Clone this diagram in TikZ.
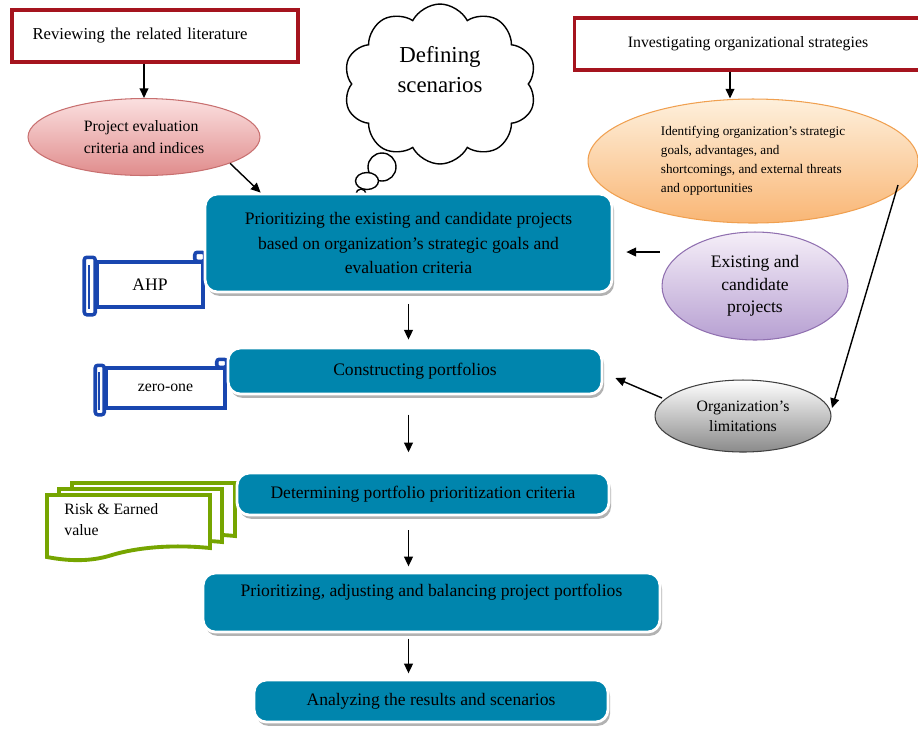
\documentclass[tikz,border=0pt]{standalone}
\usepackage{fontspec}
\setmainfont{Liberation Serif}
\usetikzlibrary{shapes.geometric,shapes.symbols,shadows,arrows.meta,calc}

\definecolor{tealbox}{RGB}{0,133,173}
\definecolor{redframe}{RGB}{165,20,30}
\definecolor{scrollblue}{RGB}{25,70,175}
\definecolor{docgreen}{RGB}{118,165,0}
\definecolor{pinktop}{RGB}{251,224,224}
\definecolor{pinkbot}{RGB}{224,140,140}
\definecolor{pinkline}{RGB}{200,112,112}
\definecolor{orangetop}{RGB}{254,240,220}
\definecolor{orangebot}{RGB}{249,182,117}
\definecolor{orangeline}{RGB}{240,160,80}
\definecolor{purpletop}{RGB}{245,238,248}
\definecolor{purplebot}{RGB}{183,160,210}
\definecolor{purpleline}{RGB}{144,112,176}
\definecolor{graybot}{RGB}{138,138,138}

\tikzset{
  stage/.style={rectangle, rounded corners=7pt, fill=tealbox, draw=white, line width=1.6pt,
    drop shadow={shadow xshift=1.2pt, shadow yshift=-2.2pt, opacity=0.55, fill=black!55},
    align=center, font=\fontsize{10}{14}\selectfont},
  source/.style={rectangle, draw=redframe, line width=2.2pt, fill=white},
  oval/.style={ellipse, inner sep=0pt, line width=0.6pt},
  scrollbox/.style={rectangle, draw=scrollblue, line width=2pt, fill=white},
  scrollline/.style={draw=scrollblue, line width=2pt},
  docline/.style={draw=docgreen, line width=2.2pt, fill=white},
  bubble/.style={draw, fill=white, line width=0.8pt, inner sep=0pt},
  arr/.style={-{Triangle[length=5.5pt,width=5pt]}, line width=0.8pt},
}

\begin{document}
\begin{tikzpicture}[x=0.02cm, y=-0.02cm]
\useasboundingbox (0,0) rectangle (918,728);

% sources at the top
\node[source, minimum width=5.72cm, minimum height=1.04cm, text width=4.9cm, align=left,
  font=\fontsize{9.5}{12}\selectfont] (rev) at (155,36) {Reviewing the related literature};
\node[source, minimum width=6.94cm, minimum height=1.04cm,
  font=\fontsize{9}{12}\selectfont] (inv) at (748,44) {Investigating organizational strategies};

% thought cloud
\node[cloud, cloud puffs=10, cloud puff arc=125, cloud ignores aspect, draw, fill=white, line width=0.8pt,
  minimum width=3.86cm, minimum height=3.2cm, align=center,
  font=\fontsize{13}{17}\selectfont] (scen) at (440,84) {Defining\\scenarios\\ \mbox{}};
\node[bubble, circle, minimum size=0.56cm] (bubA) at (382,167) {};
\node[bubble, ellipse, minimum width=0.46cm, minimum height=0.34cm] (bubB) at (367,181) {};
\node[bubble, circle, minimum size=0.2cm] (bubC) at (361,194) {};

% ovals
\node[oval, minimum width=4.64cm, minimum height=1.54cm, top color=pinktop, bottom color=pinkbot,
  draw=pinkline, align=left, font=\fontsize{9}{12.5}\selectfont] (pee) at (144,137)
  {Project evaluation\\criteria and indices};
\node[oval, minimum width=6.6cm, minimum height=2.48cm, top color=orangetop, bottom color=orangebot,
  draw=orangeline, align=left, font=\fontsize{7.5}{10.8}\selectfont] (goals) at (753,161)
  {Identifying organization's strategic\\goals, advantages, and\\shortcomings, and external threats\\and opportunities};
\node[oval, minimum width=3.72cm, minimum height=2.16cm, top color=purpletop, bottom color=purplebot,
  draw=purpleline, align=center, font=\fontsize{10}{12.75}\selectfont] (purp) at (755,286)
  {Existing and\\candidate\\projects};
\node[oval, minimum width=3.52cm, minimum height=1.44cm, top color=white, bottom color=graybot,
  draw=black!75, align=center, font=\fontsize{9}{11.3}\selectfont] (lim) at (743,416)
  {Organization's\\limitations};

% method tags
\foreach \dx/\dy in {25/-12, 12/-6, 0/0}
  \draw[docline, shift={(\dx,\dy)}] (47,495) -- (210,495) -- (210,548)
    .. controls (170,544) and (135,548) .. (112,555)
    .. controls (90,562) and (68,561) .. (47,557) -- cycle;
\node[anchor=north west, align=left, inner sep=0pt, font=\fontsize{9}{12}\selectfont] (risk) at (64,503)
  {Risk \& Earned\\value};

\node[scrollbox, minimum width=2.12cm, minimum height=0.9cm, font=\fontsize{10}{12}\selectfont] (ahp) at (150,284.5) {AHP};
\draw[scrollline, fill=white, rounded corners=1.5pt] ($(ahp.north west)+(-11,-3)$) rectangle ($(ahp.south west)+(0,6)$);
\draw[scrollline, line width=1pt] ($(ahp.north west)+(-6,5)$) -- ($(ahp.south west)+(-6,0)$);
\draw[scrollline, fill=white, rounded corners=1.5pt] ($(ahp.north east)+(-10,-8)$) rectangle ($(ahp.north east)+(0,1)$);

\node[scrollbox, minimum width=2.38cm, minimum height=0.8cm, font=\fontsize{9}{11}\selectfont] (zo) at (165.5,388) {zero-one};
\draw[scrollline, fill=white, rounded corners=1.5pt] ($(zo.north west)+(-9,-1)$) rectangle ($(zo.south west)+(0,5)$);
\draw[scrollline, line width=1pt] ($(zo.north west)+(-5,6)$) -- ($(zo.south west)+(-5,0)$);
\draw[scrollline, fill=white, rounded corners=1.5pt] ($(zo.north east)+(-10,-7)$) rectangle ($(zo.north east)+(0,1)$);

% main flow
\node[stage, minimum width=8.14cm, minimum height=1.96cm] (mainA) at (408.5,243)
  {Prioritizing the existing and candidate projects\\based on organization's strategic goals and\\evaluation criteria};
\node[stage, minimum width=7.48cm, minimum height=0.92cm] (cons) at (415,371) {Constructing portfolios};
\node[stage, minimum width=7.44cm, minimum height=0.84cm] (crit) at (423,494) {Determining portfolio prioritization criteria};
\node[stage, minimum width=9.14cm, minimum height=1.18cm] (bal) at (431.5,602.5)
  {Prioritizing, adjusting and balancing project portfolios\\ \mbox{}};
\node[stage, minimum width=7.08cm, minimum height=0.84cm] (ana) at (431,701) {Analyzing the results and scenarios};

% connectors
\draw[arr] (rev.south -| pee.north) -- (pee.north);
\draw[arr] ([xshift=-0.36cm]inv.south) -- ([xshift=-0.36cm]inv.south |- goals.north);
\draw[arr] (pee.-17) -- ([xshift=1.14cm]mainA.north west);
\draw[arr] ($(purp.west)+(-2,-34)$) -- ($(mainA.east)+(13,9)$);
\draw[arr] ($(lim.center)+(-81,-18)$) -- ($(cons.east)+(12,7)$);
\draw[arr] ($(goals.center)+(145,24)$) -- ($(lim.center)+(89,-8)$);
\draw[arr, shorten <=6pt, shorten >=4pt] (mainA.south) -- (mainA.south |- cons.north);
\draw[arr, shorten <=11pt, shorten >=11pt] (mainA.south |- cons.south) -- (mainA.south |- crit.north);
\draw[arr, shorten <=8pt, shorten >=3pt] (mainA.south |- crit.south) -- (mainA.south |- bal.north);
\draw[arr, shorten <=3pt, shorten >=3pt] (mainA.south |- bal.south) -- (mainA.south |- ana.north);
\end{tikzpicture}
\end{document}
